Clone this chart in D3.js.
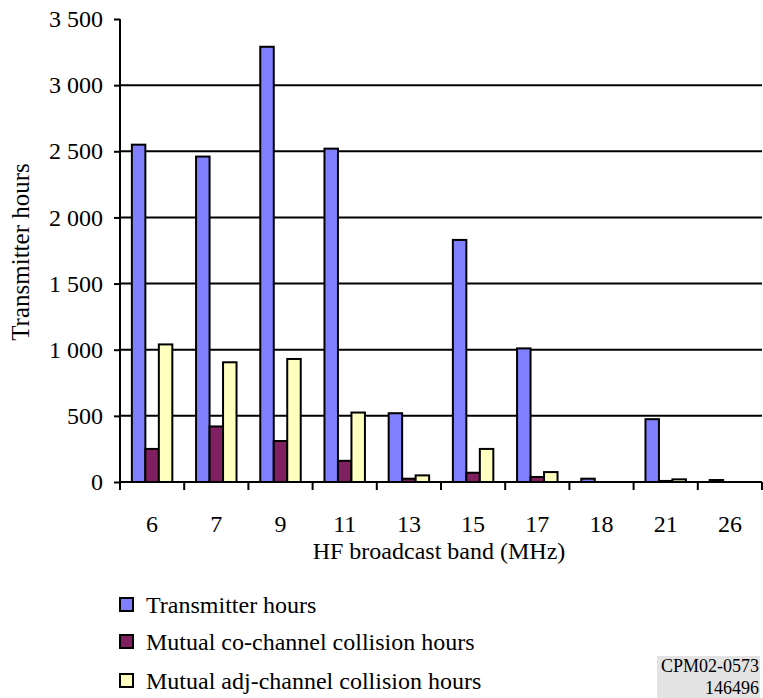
<!DOCTYPE html>
<html>
<head>
<meta charset="utf-8">
<script src="https://cdn.jsdelivr.net/npm/d3@7"></script>
<style>
  html, body { margin: 0; padding: 0; background: #fff; }
  svg { display: block; }
  text { font-family: "Liberation Serif", "Times New Roman", serif; fill: #000; }
</style>
</head>
<body>
<svg id="chart" width="763" height="698"></svg>
<script>
// HF broadcast bands (MHz)
const bands = ["6", "7", "9", "11", "13", "15", "17", "18", "21", "26"];

// Hours per band for each series
const transmitterHours = [2550, 2460, 3290, 2520, 520, 1830, 1010, 25, 475, 15];
const coChannelHours   = [250, 420, 310, 160, 25, 70, 38, 0, 8, 0];
const adjChannelHours  = [1040, 905, 930, 525, 50, 250, 75, 0, 20, 0];

const seriesNames = [
  "Transmitter hours",
  "Mutual co-channel collision hours",
  "Mutual adj-channel collision hours"
];
const seriesColors = ["#8080FF", "#802060", "#FFFFC0"];
const seriesValues = [transmitterHours, coChannelHours, adjChannelHours];

const yTicks = [0, 500, 1000, 1500, 2000, 2500, 3000, 3500];
const yTickLabels = ["0", "500", "1 000", "1 500", "2 000", "2 500", "3 000", "3 500"];

const svg = d3.select("#chart");
const plotLeft = 120, plotRight = 762, plotTop = 19, plotBottom = 482;
const fontSize = "24px";

const x = d3.scaleBand().domain(bands).range([plotLeft, plotRight]).paddingInner(0).paddingOuter(0);
const xInner = d3.scaleBand().domain(d3.range(3)).range([0, x.bandwidth()])
  .paddingInner(0).paddingOuter(0.88);
const y = d3.scaleLinear().domain([0, 3500]).range([plotBottom, plotTop]);

// Horizontal gridlines (none at the top value)
svg.append("g")
  .selectAll("line")
  .data(yTicks.filter(t => t > 0 && t < 3500))
  .join("line")
  .attr("x1", plotLeft).attr("x2", plotRight)
  .attr("y1", d => y(d)).attr("y2", d => y(d))
  .attr("stroke", "#000").attr("stroke-width", 2);

// Bars
const rows = bands.map((b, i) => ({ band: b, vals: seriesValues.map(s => s[i]) }));
const groups = svg.append("g").selectAll("g")
  .data(rows).join("g")
  .attr("transform", d => `translate(${x(d.band)},0)`);

groups.selectAll("rect")
  .data(d => d.vals.map((v, k) => ({ v, k })).filter(e => e.v > 0))
  .join("rect")
  .attr("x", e => xInner(e.k))
  .attr("width", xInner.bandwidth())
  .attr("y", e => y(e.v))
  .attr("height", e => y(0) - y(e.v))
  .attr("fill", e => seriesColors[e.k])
  .attr("stroke", "#000")
  .attr("stroke-width", 2);

// Y axis
const yAxis = d3.axisLeft(y)
  .tickValues(yTicks)
  .tickFormat((d, i) => yTickLabels[i])
  .tickSize(6)
  .tickPadding(11);
const gy = svg.append("g").attr("transform", `translate(${plotLeft},0)`).call(yAxis);
gy.attr("font-family", null);
gy.select(".domain").attr("stroke", "#000").attr("stroke-width", 2)
  .attr("d", `M0,${plotTop}V${plotBottom + 8}`);
gy.selectAll(".tick line").attr("stroke", "#000").attr("stroke-width", 2);
gy.selectAll(".tick text").style("font-size", fontSize);

// X axis with ticks at band boundaries
svg.append("line")
  .attr("x1", plotLeft).attr("x2", plotRight)
  .attr("y1", plotBottom).attr("y2", plotBottom)
  .attr("stroke", "#000").attr("stroke-width", 2);
svg.append("g").selectAll("line")
  .data(bands.map(b => x(b)).concat([plotRight]))
  .join("line")
  .attr("x1", d => d).attr("x2", d => d)
  .attr("y1", plotBottom).attr("y2", plotBottom + 8)
  .attr("stroke", "#000").attr("stroke-width", 2);
svg.append("g").selectAll("text")
  .data(bands).join("text")
  .attr("x", d => x(d) + x.bandwidth() / 2)
  .attr("y", 532)
  .attr("text-anchor", "middle")
  .style("font-size", fontSize)
  .text(d => d);

// Axis titles
svg.append("text")
  .attr("x", (plotLeft + plotRight) / 2 - 2)
  .attr("y", 559)
  .attr("text-anchor", "middle")
  .style("font-size", fontSize)
  .text("HF broadcast band (MHz)");

svg.append("text")
  .attr("transform", "translate(29,252) rotate(-90)")
  .attr("text-anchor", "middle")
  .style("font-size", "25px")
  .text("Transmitter hours");

// Legend
const legendY = [605, 642, 681];
const legend = svg.append("g").selectAll("g")
  .data(seriesNames).join("g")
  .attr("transform", (d, i) => `translate(0,${legendY[i]})`);
legend.append("rect")
  .attr("x", 120).attr("y", -7).attr("width", 13).attr("height", 13)
  .attr("fill", (d, i) => seriesColors[i])
  .attr("stroke", "#000").attr("stroke-width", 2);
legend.append("text")
  .attr("x", 146).attr("y", 8)
  .style("font-size", fontSize)
  .text(d => d);

// Document reference box
svg.append("rect")
  .attr("x", 657).attr("y", 656).attr("width", 103).attr("height", 42)
  .attr("fill", "#e3e3e3");
svg.append("text")
  .attr("x", 759).attr("y", 672)
  .attr("text-anchor", "end")
  .style("font-size", "18px")
  .text("CPM02-0573");
svg.append("text")
  .attr("x", 759).attr("y", 694)
  .attr("text-anchor", "end")
  .style("font-size", "18px")
  .text("146496");
</script>
</body>
</html>
